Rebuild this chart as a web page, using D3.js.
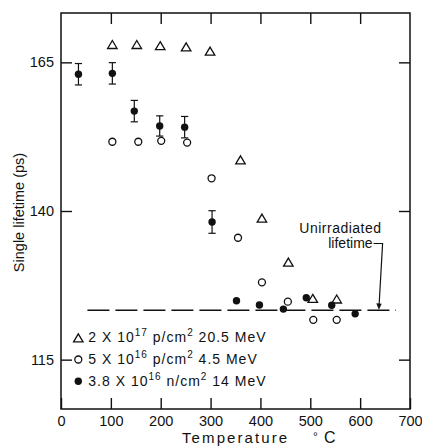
<!DOCTYPE html>
<html>
<head>
<meta charset="utf-8">
<script src="https://cdn.jsdelivr.net/npm/d3@7"></script>
<style>
  body { margin: 0; background: #fff; }
  svg { display: block; font-family: "Liberation Sans", Arial, sans-serif; }
</style>
</head>
<body>
<div id="chart"></div>
<script>
// series (temperature in C, lifetime in ps)
var tempTri = [103, 152, 199, 251, 299, 360, 403, 456, 505, 553];
var lifeTri = [168.0, 168.0, 167.8, 167.6, 166.9, 148.6, 138.8, 131.4, 125.3, 125.2];

var tempOpen = [103, 155, 201, 253, 302, 355, 403, 455, 506, 553];
var lifeOpen = [151.65, 151.65, 151.8, 151.5, 145.5, 135.5, 128.0, 124.75, 121.7, 121.7];

var tempFilled = [35, 103, 147, 198, 248, 303, 352, 398, 446, 492, 543, 590];
var lifeFilled = [163.0, 163.15, 156.8, 154.3, 154.1, 138.15, 124.9, 124.2, 123.5, 125.4, 124.15, 122.7];
var errFilled = [1.8, 1.8, 1.8, 1.7, 1.8, 1.9, 0, 0, 0, 0, 0, 0];

var unirradiated = 123.3;
var unirrRange = [53, 672];

var xTicks = [0, 100, 200, 300, 400, 500, 600, 700];
var yTicks = [115, 140, 165];

var legendRows = [
    { sym: 'tri', lead: '2 X 10', exp: '17', unit: ' p/cm', tail: ' 20.5 MeV' },
    { sym: 'open', lead: '5 X 10', exp: '16', unit: ' p/cm', tail: ' 4.5 MeV' },
    { sym: 'filled', lead: '3.8 X 10', exp: '16', unit: ' n/cm', tail: ' 14 MeV' }
];

(function () {
    var W = 422, H = 446;
    var margin = { top: 13, right: 12, bottom: 37, left: 61 },
        width = W - margin.left - margin.right,
        height = H - margin.top - margin.bottom;
    var ink = '#111';

    var svg = d3.select('#chart').append('svg')
        .attr('width', W)
        .attr('height', H);

    var g = svg.append('g')
        .attr('transform', 'translate(' + margin.left + ',' + margin.top + ')');

    var x = d3.scaleLinear().domain([0, 700]).range([0, width]);
    var y = d3.scaleLinear().domain([106.7, 173.3]).range([height, 0]);

    // axes, ticks pointing inward
    var tickLen = 11;
    var axB = g.append('g')
        .attr('transform', 'translate(0,' + height + ')')
        .call(d3.axisBottom(x).tickValues(xTicks).tickSizeInner(-tickLen).tickSizeOuter(0).tickPadding(7).tickFormat(d3.format('d')));
    var axL = g.append('g')
        .call(d3.axisLeft(y).tickValues(yTicks).tickSizeInner(-tickLen).tickSizeOuter(0).tickPadding(7));
    var axT = g.append('g')
        .call(d3.axisTop(x).tickValues(xTicks.slice(1, -1)).tickSizeInner(-tickLen).tickSizeOuter(0).tickFormat(''));
    var axR = g.append('g')
        .attr('transform', 'translate(' + width + ',0)')
        .call(d3.axisRight(y).tickValues(yTicks).tickSizeInner(-tickLen).tickSizeOuter(0).tickFormat(''));

    [axB, axL, axT, axR].forEach(function (a) {
        a.select('.domain').remove();
        a.selectAll('line').attr('stroke', ink).attr('stroke-width', 1.4);
        a.selectAll('text').attr('fill', ink).style('font-size', '14.5px').style('font-family', '"Liberation Sans", Arial, sans-serif');
    });

    // frame
    g.append('rect')
        .attr('width', width)
        .attr('height', height)
        .attr('fill', 'none')
        .attr('stroke', ink)
        .attr('stroke-width', 1.5);

    // axis titles
    svg.append('text')
        .attr('transform', 'translate(23.5,212.5) rotate(-90)')
        .attr('text-anchor', 'middle')
        .style('font-size', '14.5px')
        .attr('fill', ink)
        .text('Single lifetime (ps)');

    var xt = svg.append('text')
        .attr('x', 182)
        .attr('y', 442.5)
        .style('font-size', '15px')
        .attr('fill', ink);
    xt.append('tspan').style('letter-spacing', '2.1px').text('Temperature');
    xt.append('tspan').attr('x', 313).attr('dy', -2).style('font-size', '12px').text('°');
    xt.append('tspan').attr('x', 324).attr('dy', 2).style('font-size', '16px').text('C');

    // unirradiated lifetime dashed line
    g.append('line')
        .attr('x1', x(unirrRange[0]))
        .attr('x2', x(unirrRange[1]))
        .attr('y1', y(unirradiated))
        .attr('y2', y(unirradiated))
        .attr('stroke', ink)
        .attr('stroke-width', 1.4)
        .attr('stroke-dasharray', '22,6');

    // annotation
    var ax = x(638), ay = y(unirradiated);
    g.append('text')
        .attr('x', x(643))
        .attr('y', 232.5 - margin.top)
        .attr('text-anchor', 'end')
        .style('font-size', '14px')
        .style('letter-spacing', '0.5px')
        .attr('fill', ink)
        .text('Unirradiated');
    g.append('text')
        .attr('x', x(625))
        .attr('y', 248.2 - margin.top)
        .attr('text-anchor', 'end')
        .style('font-size', '14px')
        .attr('fill', ink)
        .text('lifetime');
    var hookY = 243.5 - margin.top;
    g.append('path')
        .attr('d', 'M' + (x(625) + 1) + ',' + hookY + 'L' + (ax + 3.5) + ',' + hookY + 'L' + ax + ',' + (ay - 5))
        .attr('fill', 'none')
        .attr('stroke', ink)
        .attr('stroke-width', 1.2);
    g.append('path')
        .attr('d', 'M' + (ax - 2.8) + ',' + (ay - 7) + 'L' + (ax + 2.6) + ',' + (ay - 6.6) + 'L' + (ax - 0.2) + ',' + (ay - 0.5) + 'Z')
        .attr('fill', ink);

    // symbols
    var triPath = function (cx, cy) {
        var w = 9.5, h = 8;
        return 'M' + cx + ',' + (cy - h / 2) + 'L' + (cx + w / 2) + ',' + (cy + h / 2) + 'L' + (cx - w / 2) + ',' + (cy + h / 2) + 'Z';
    };

    var triData = tempTri.map(function (t, i) { return { t: t, v: lifeTri[i] }; });
    var openData = tempOpen.map(function (t, i) { return { t: t, v: lifeOpen[i] }; });
    var filledData = tempFilled.map(function (t, i) { return { t: t, v: lifeFilled[i], e: errFilled[i] }; });

    // error bars
    var errs = g.append('g').selectAll('g')
        .data(filledData.filter(function (d) { return d.e > 0; }))
        .enter().append('g')
        .attr('stroke', ink)
        .attr('stroke-width', 1.2);
    errs.append('line')
        .attr('x1', function (d) { return x(d.t); })
        .attr('x2', function (d) { return x(d.t); })
        .attr('y1', function (d) { return y(d.v + d.e); })
        .attr('y2', function (d) { return y(d.v - d.e); });
    [1, -1].forEach(function (s) {
        errs.append('line')
            .attr('x1', function (d) { return x(d.t) - 3.6; })
            .attr('x2', function (d) { return x(d.t) + 3.6; })
            .attr('y1', function (d) { return y(d.v + s * d.e); })
            .attr('y2', function (d) { return y(d.v + s * d.e); });
    });

    g.append('g').selectAll('path')
        .data(triData)
        .enter().append('path')
        .attr('d', function (d) { return triPath(x(d.t), y(d.v)); })
        .attr('fill', 'none')
        .attr('stroke', ink)
        .attr('stroke-width', 1.3);

    g.append('g').selectAll('circle')
        .data(openData)
        .enter().append('circle')
        .attr('cx', function (d) { return x(d.t); })
        .attr('cy', function (d) { return y(d.v); })
        .attr('r', 3.5)
        .attr('fill', '#fff')
        .attr('stroke', ink)
        .attr('stroke-width', 1.3);

    g.append('g').selectAll('circle')
        .data(filledData)
        .enter().append('circle')
        .attr('cx', function (d) { return x(d.t); })
        .attr('cy', function (d) { return y(d.v); })
        .attr('r', 3.7)
        .attr('fill', ink);

    // legend
    var leg = svg.append('g');
    legendRows.forEach(function (r, i) {
        var by = 342.3 + i * 21.7, my = by - 4.5;
        if (r.sym === 'tri') {
            leg.append('path').attr('d', triPath(78.3, my)).attr('fill', 'none').attr('stroke', ink).attr('stroke-width', 1.3);
        } else {
            leg.append('circle').attr('cx', 78.3).attr('cy', my).attr('r', r.sym === 'open' ? 3.5 : 3.7)
                .attr('fill', r.sym === 'open' ? '#fff' : ink)
                .attr('stroke', r.sym === 'open' ? ink : 'none')
                .attr('stroke-width', 1.3);
        }
        var t = leg.append('text')
            .attr('x', 88.3)
            .attr('y', by)
            .style('font-size', '14px')
            .style('letter-spacing', '1px')
            .attr('fill', ink);
        t.append('tspan').text(r.lead);
        t.append('tspan').attr('dy', -6).style('font-size', '10px').text(r.exp);
        t.append('tspan').attr('dy', 6).text(r.unit);
        t.append('tspan').attr('dy', -6).style('font-size', '10px').text('2');
        t.append('tspan').attr('dy', 6).text(r.tail);
    });
})();
</script>
</body>
</html>
